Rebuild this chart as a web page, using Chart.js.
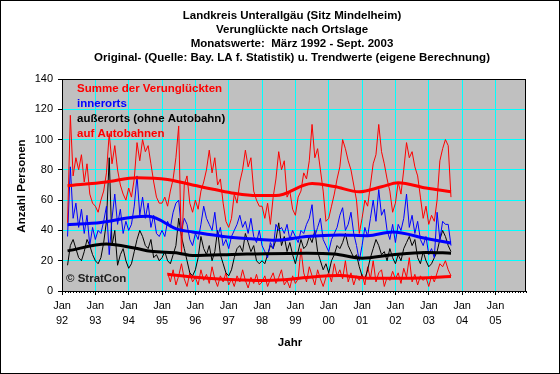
<!DOCTYPE html>
<html>
<head>
<meta charset="utf-8">
<script src="https://cdn.jsdelivr.net/npm/chart.js@4.4.1/dist/chart.umd.min.js"></script>
<style>
  body { margin: 0; background: #fff; }
  canvas { display: block; }
</style>
</head>
<body>
<canvas id="chart" width="560" height="374"></canvas>
<script>
// Monatswerte, Monat 0 = Jan 92
const startMonat = 2;          // März 1992
const startAutobahn = 38;      // März 1995
const jahreLabels = ['92', '93', '94', '95', '96', '97', '98', '99', '00', '01', '02', '03', '04', '05'];

const summeWerte = [
  45, 116, 76, 88, 80, 90, 72, 84, 64, 58,             // 1992 (ab März)
  56, 52, 60, 66, 78, 104, 84, 96, 80, 70, 64, 60,     // 1993
  68, 62, 74, 98, 86, 100, 92, 96, 84, 72, 62, 58,     // 1994
  58, 62, 56, 66, 74, 88, 109, 24, 70, 76, 58, 52,     // 1995
  60, 54, 66, 72, 80, 93, 78, 88, 70, 74, 58, 46,      // 1996
  42, 48, 64, 58, 72, 80, 93, 82, 88, 66, 60, 56,      // 1997
  56, 48, 58, 44, 62, 74, 92, 80, 86, 62, 66, 54,      // 1998
  50, 62, 66, 78, 74, 86, 110, 88, 94, 80, 66, 46,     // 1999
  48, 56, 64, 74, 82, 100, 94, 86, 80, 70, 60, 38,     // 2000
  48, 60, 56, 70, 84, 90, 110, 92, 84, 74, 66, 52,     // 2001
  58, 72, 64, 80, 98, 88, 92, 82, 76, 62, 48, 56,      // 2002
  44, 50, 46, 60, 86, 94, 100, 96, 62                  // 2003 (bis Sept.)
];

const innerortsWerte = [
  36, 82, 48, 58, 42, 54, 38, 50, 30, 42,
  34, 40, 38, 46, 56, 24, 48, 64, 44, 54, 38, 46,
  40, 44, 56, 76, 50, 62, 48, 58, 42, 50, 38, 36,
  40, 36, 46, 42, 52, 58, 60, 40, 48, 44, 34, 30,
  38, 34, 44, 56, 48, 44, 40, 52, 36, 42, 30, 34,
  28, 36, 40, 44, 50, 42, 46, 38, 48, 36, 32, 40,
  30, 26, 22, 32, 28, 44, 40, 42, 38, 44, 34, 40,
  36, 32, 40, 38, 44, 48, 57, 36, 42, 48, 34, 30,
  26, 34, 38, 42, 50, 55, 40, 44, 52, 38, 30, 20,
  30, 42, 36, 48, 60, 46, 67, 50, 54, 40, 34, 44,
  32, 44, 40, 48, 64, 42, 50, 38, 46, 34, 30, 36,
  24, 28, 22, 52, 34, 46, 44, 44, 30
];

const ausserortsWerte = [
  17, 30, 34, 28, 22, 20, 26, 34, 30, 24,
  20, 18, 22, 32, 46, 88, 30, 40, 17, 24, 28, 20,
  15, 18, 26, 34, 40, 36, 30, 28, 34, 22, 24, 20,
  22, 26, 20, 18, 24, 30, 48, 36, 28, 20, 12, 10,
  14, 22, 36, 28, 24, 30, 20, 26, 40, 24, 18, 12,
  10, 14, 22, 28, 30, 26, 38, 32, 26, 30, 20, 18,
  20, 18, 24, 30, 28, 34, 45, 30, 36, 26, 32, 24,
  18, 26, 34, 28, 30, 36, 32, 40, 26, 20, 14, 18,
  12, 20, 24, 30, 28, 32, 38, 30, 26, 22, 24, 16,
  10, 8, 14, 22, 28, 34, 30, 24, 26, 20, 28, 22,
  18, 24, 20, 28, 32, 36, 30, 34, 22, 18, 26, 20,
  16, 18, 22, 26, 34, 40, 36, 30, 26
];

const autobahnWerte = [
  12, 6, 14, 4, 10, 18, 8, 3, 12, 6,                   // 1995 (ab März)
  9, 4, 14, 7, 11, 5, 16, 8, 3, 10, 6, 12,
  4, 8, 3, 10, 6, 14, 7, 2, 9, 5, 11, 4,
  6, 10, 3, 8, 12, 5, 9, 14, 4, 7, 2, 10,
  5, 8, 28, 12, 6, 16, 10, 4, 14, 8, 3, 9,
  12, 6, 18, 10, 14, 8, 20, 6, 12, 4, 10, 7,
  11, 4, 16, 8, 20, 6, 12, 14, 3, 9, 7, 13,
  8, 12, 5, 15, 9, 22, 6, 11, 4, 10, 7, 9,
  3, 10, 6, 12, 18, 16, 20, 14, 10
];

// Trendwerte (Stützstellen: Monat / Wert)
const trendSummeMonate = [2, 16, 27, 38, 47, 55, 62, 70, 77, 90, 98, 107, 115, 121, 131, 140];
const trendSummeWerte = [69.5, 72, 74.8, 73.7, 70, 67, 64.5, 63, 63, 71, 69, 65.5, 68.8, 71.5, 68, 65.5];
const trendInnerMonate = [2, 14, 26, 31, 42, 47, 58, 68, 77, 88, 100, 110, 119, 131, 140];
const trendInnerWerte = [43.8, 45.3, 48.9, 49.3, 40.5, 39, 36, 34.5, 33.5, 36, 37, 36.5, 39, 34.7, 31.7];
const trendAusserMonate = [2, 16, 26, 32, 42, 47, 64, 88, 98, 108, 119, 131, 140];
const trendAusserWerte = [26.5, 31, 28.4, 26.2, 25, 23.4, 24.3, 25, 24.5, 21.7, 24, 25.5, 25];
const trendAutobahnMonate = [38, 47, 58, 70, 80, 90, 100, 110, 125, 140];
const trendAutobahnWerte = [11, 9.2, 7.8, 7, 7.5, 9.3, 10.2, 8.5, 8.5, 9.5];

const titelZeilen = [
  'Landkreis Unterallgäu (Sitz Mindelheim)',
  'Verunglückte nach Ortslage',
  'Monatswerte:  März 1992 - Sept. 2003',
  'Original- (Quelle: Bay. LA f. Statistik) u. Trendwerte (eigene Berechnung)'
];
const legende = [
  ['Summe der Verunglückten', '#ff0000'],
  ['innerorts', '#0000ff'],
  ['außerorts (ohne Autobahn)', '#000000'],
  ['auf Autobahnen', '#ff0000']
];

function punkte(werte, start) {
  return werte.map((v, i) => ({ x: start + i, y: v }));
}
function trend(monate, werte) {
  return monate.map((m, i) => ({ x: m, y: werte[i] }));
}

function duenn(daten, farbe) {
  return { data: daten, borderColor: farbe, borderWidth: 1, pointRadius: 0, tension: 0 };
}
function dick(daten, farbe) {
  return { data: daten, borderColor: farbe, borderWidth: 3, pointRadius: 0, cubicInterpolationMode: 'monotone' };
}

const deko = {
  id: 'deko',
  beforeDraw(chart) {
    const { ctx, chartArea: a } = chart;
    ctx.save();
    ctx.fillStyle = '#c0c0c0';
    ctx.fillRect(a.left, a.top, a.right - a.left, a.bottom - a.top);
    ctx.restore();
  },
  afterDatasetsDraw(chart) {
    const { ctx, chartArea: a } = chart;
    ctx.save();
    ctx.strokeStyle = '#000';
    ctx.lineWidth = 1;
    ctx.strokeRect(a.left + 0.5, a.top + 0.5, a.right - a.left - 1, a.bottom - a.top);
    ctx.restore();
  },
  afterDraw(chart) {
    const { ctx, chartArea: a } = chart;
    const xs = chart.scales.x;
    ctx.save();
    // kleine Monatsstriche an der x-Achse
    ctx.strokeStyle = '#000';
    ctx.beginPath();
    for (let m = 1; m < 168; m++) {
      if (m % 12 === 0) continue;
      const px = Math.round(xs.getPixelForValue(m)) + 0.5;
      ctx.moveTo(px, a.bottom);
      ctx.lineTo(px, a.bottom + 2);
    }
    ctx.stroke();

    ctx.fillStyle = '#000';
    ctx.textAlign = 'center';
    ctx.textBaseline = 'middle';
    ctx.font = 'bold 11.5px Arial';
    titelZeilen.forEach((t, i) => ctx.fillText(t, 292, 16 + i * 14));
    ctx.fillText('Jahr', 290, 343);

    ctx.save();
    ctx.translate(22, 186);
    ctx.rotate(-Math.PI / 2);
    ctx.fillText('Anzahl Personen', 0, 0);
    ctx.restore();

    ctx.textAlign = 'left';
    ctx.font = 'bold 11.5px Arial';
    legende.forEach(([t, c], i) => {
      ctx.fillStyle = c;
      ctx.fillText(t, 77, 89 + i * 15);
    });
    ctx.fillStyle = '#202020';
    ctx.fillText('© StratCon', 66, 279);

    ctx.strokeStyle = '#000';
    ctx.strokeRect(0.5, 0.5, 559, 373);
    ctx.restore();
  }
};

new Chart(document.getElementById('chart'), {
  type: 'line',
  data: {
    datasets: [
      dick(trend(trendSummeMonate, trendSummeWerte), '#ff0000'),
      dick(trend(trendInnerMonate, trendInnerWerte), '#0000ff'),
      dick(trend(trendAusserMonate, trendAusserWerte), '#000000'),
      dick(trend(trendAutobahnMonate, trendAutobahnWerte), '#ff0000'),
      duenn(punkte(summeWerte, startMonat), '#ff0000'),
      duenn(punkte(innerortsWerte, startMonat), '#0000ff'),
      duenn(punkte(ausserortsWerte, startMonat), '#000000'),
      duenn(punkte(autobahnWerte, startAutobahn), '#ff0000')
    ]
  },
  options: {
    responsive: false,
    devicePixelRatio: 1,
    animation: false,
    layout: { padding: { top: 79, right: 34, left: 0, bottom: 0 } },
    plugins: { legend: { display: false }, title: { display: false }, tooltip: { enabled: false } },
    scales: {
      x: {
        type: 'linear',
        min: 0,
        max: 167,
        afterFit: (s) => { s.height = 83; },
        afterBuildTicks: (s) => { s.ticks = jahreLabels.map((_, i) => ({ value: i * 12 })); },
        grid: { color: '#00ffff', tickColor: '#000', tickLength: 4, lineWidth: 1 },
        border: { color: '#000' },
        ticks: {
          color: '#000',
          font: { family: 'Arial', size: 11, lineHeight: 1.35 },
          padding: 4,
          maxRotation: 0,
          autoSkip: false,
          callback: (v) => ['Jan', jahreLabels[v / 12]]
        }
      },
      y: {
        min: 0,
        max: 140,
        afterFit: (s) => { s.width = 62; },
        grid: { color: '#00ffff', tickColor: '#000', tickLength: 4, lineWidth: 1 },
        border: { color: '#000' },
        ticks: { stepSize: 20, color: '#000', padding: 5, font: { family: 'Arial', size: 11 } }
      }
    }
  },
  plugins: [deko]
});
</script>
</body>
</html>
